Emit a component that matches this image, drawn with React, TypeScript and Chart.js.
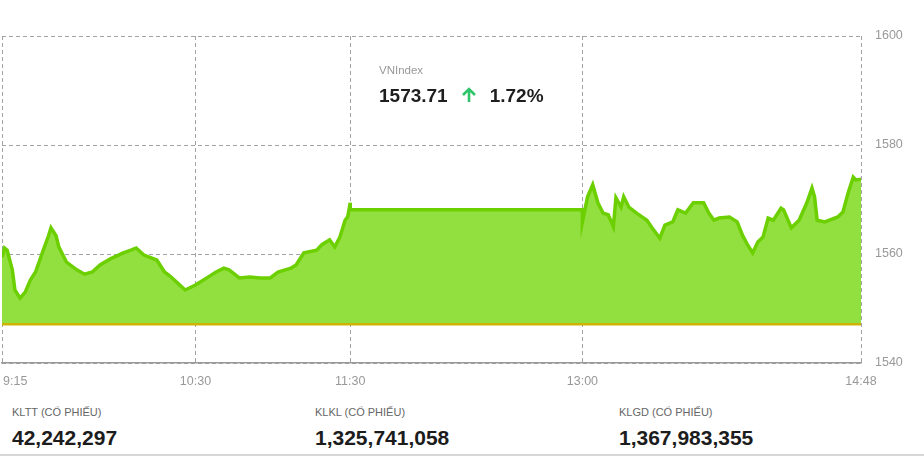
import React, { useEffect, useRef } from "react";
import { Chart, registerables } from "chart.js";

Chart.register(...registerables);

// ---- data ----
const indexName = "VNIndex";
const lastPrice = "1573.71";
const changePct = "1.72%";
const referencePrice = 1547.1;

const timeLabels = ["9:15", "10:30", "11:30", "13:00", "14:48"];
const yTickValues = [1540, 1560, 1580, 1600];

const times = [
  "9:15", "9:16", "9:17", "9:19", "9:20", "9:22", "9:24", "9:26", "9:28", "9:31",
  "9:33", "9:34", "9:36", "9:37", "9:40", "9:44", "9:47", "9:50", "9:53", "9:57",
  "10:02", "10:05", "10:07", "10:10", "10:15", "10:18", "10:20", "10:23", "10:26", "10:30",
  "10:35", "10:38", "10:41", "10:43", "10:47", "10:51", "10:55", "10:59", "11:02", "11:07",
  "11:09", "11:12", "11:17", "11:19", "11:22", "11:24", "11:26", "11:28", "11:29", "11:30",
  "11:30", "13:00", "13:00", "13:02", "13:04", "13:06", "13:08", "13:10", "13:12", "13:13",
  "13:15", "13:16", "13:18", "13:21", "13:25", "13:27", "13:30", "13:32", "13:35", "13:37",
  "13:40", "13:43", "13:47", "13:49", "13:51", "13:53", "13:57", "14:00", "14:02", "14:04",
  "14:06", "14:08", "14:10", "14:12", "14:14", "14:17", "14:18", "14:21", "14:24", "14:27",
  "14:29", "14:30", "14:31", "14:34", "14:39", "14:41", "14:43", "14:45", "14:46", "14:48",
];

const prices = [
  1559.4, 1561.1, 1560.7, 1557.1, 1553.4, 1551.9, 1553.0, 1555.2, 1556.7, 1560.7,
  1563.3, 1564.8, 1563.3, 1561.3, 1558.5, 1557.1, 1556.3, 1556.7, 1558.0, 1559.1,
  1560.2, 1560.7, 1561.1, 1559.8, 1558.9, 1556.7, 1556.0, 1554.7, 1553.4, 1554.3,
  1555.8, 1556.7, 1557.4, 1557.1, 1555.6, 1555.8, 1555.6, 1555.6, 1556.7, 1557.4,
  1558.0, 1560.2, 1560.7, 1561.7, 1562.6, 1561.3, 1563.1, 1566.2, 1566.8, 1569.4,
  1568.1, 1568.1, 1565.9, 1570.5, 1572.7, 1569.4, 1567.5, 1567.2, 1565.0, 1570.3,
  1568.6, 1570.5, 1568.6, 1567.5, 1566.2, 1564.8, 1562.9, 1565.3, 1565.9, 1568.1,
  1567.5, 1569.4, 1569.4, 1567.5, 1566.2, 1566.6, 1566.8, 1565.9, 1563.5, 1561.7,
  1560.2, 1562.2, 1563.1, 1566.6, 1566.2, 1568.4, 1568.1, 1564.8, 1566.2, 1569.4,
  1572.1, 1570.5, 1566.2, 1565.9, 1566.8, 1567.7, 1571.2, 1574.1, 1573.6, 1573.7,
];

const statLabels = ["KLTT (CỔ PHIẾU)", "KLKL (CỔ PHIẾU)", "KLGD (CỔ PHIẾU)"];
const statValues = ["42,242,297", "1,325,741,058", "1,367,983,355"];

// ---- helpers ----
const toMin = (s: string) => {
  const [h, m] = s.split(":").map(Number);
  return h * 60 + m - (9 * 60 + 15);
};

const FONT = '"Liberation Sans", Arial, sans-serif';
const GRID = "#a3a3a3";

const xLabelPlugin = {
  id: "xLabels",
  afterDraw(chart: any) {
    const ctx = chart.ctx;
    const xs = chart.scales.x;
    ctx.save();
    ctx.font = `12.5px ${FONT}`;
    ctx.fillStyle = "#999";
    ctx.textBaseline = "middle";
    ctx.textAlign = "left";
    timeLabels.forEach((lab) => {
      const px = xs.getPixelForValue(toMin(lab));
      const w = ctx.measureText(lab).width;
      let x = px - w / 2;
      if (x < 3) x = 3;
      if (x + w > chart.width - 2) x = chart.width - 2 - w;
      ctx.fillText(lab, x, 382);
    });
    ctx.restore();
  },
};

export default function App() {
  const ref = useRef<HTMLCanvasElement | null>(null);

  useEffect(() => {
    if (!ref.current) return;
    const points = times.map((t, i) => ({ x: toMin(t), y: prices[i] }));
    const xMin = toMin(timeLabels[0]);
    const xMax = toMin(timeLabels[timeLabels.length - 1]);
    const chart = new Chart(ref.current, {
      type: "line",
      data: {
        datasets: [
          {
            label: "ref",
            data: [
              { x: xMin, y: referencePrice },
              { x: xMax, y: referencePrice },
            ],
            borderColor: "#cfb300",
            borderWidth: 2.5,
            pointRadius: 0,
            fill: false,
          },
          {
            label: indexName,
            data: points,
            borderColor: "#6cd000",
            backgroundColor: "#92df40",
            borderWidth: 3.5,
            pointRadius: 0,
            tension: 0,
            fill: { value: referencePrice },
          },
        ],
      },
      options: {
        responsive: false,
        maintainAspectRatio: false,
        animation: false,
        devicePixelRatio: 1,
        layout: { padding: { left: 2, top: 36, right: 0, bottom: 0 } },
        plugins: {
          legend: { display: false },
          tooltip: { enabled: false },
        },
        scales: {
          x: {
            type: "linear",
            min: xMin,
            max: xMax,
            afterBuildTicks: (scale: any) => {
              scale.ticks = timeLabels.map((l) => ({ value: toMin(l) }));
            },
            afterFit: (scale: any) => {
              scale.height = 37;
            },
            ticks: { display: false },
            grid: { color: GRID, lineWidth: 1, drawTicks: false },
            border: { display: true, color: "#9a9a9a", width: 1.5, dash: [4, 3] },
          },
          y: {
            position: "right",
            min: yTickValues[0],
            max: yTickValues[yTickValues.length - 1],
            afterBuildTicks: (scale: any) => {
              scale.ticks = yTickValues.map((v) => ({ value: v }));
            },
            afterFit: (scale: any) => {
              scale.width = 63;
            },
            ticks: {
              color: "#999",
              padding: 14,
              font: { family: FONT, size: 12.5 },
              callback: (v: any) => String(v),
            },
            grid: { color: GRID, lineWidth: 1, drawTicks: false },
            border: { display: false, dash: [4, 3] },
          },
        },
      },
      plugins: [xLabelPlugin],
    });
    return () => chart.destroy();
  }, []);

  const abs = (left: number, top: number, extra: any = {}) => ({
    position: "absolute" as const,
    left,
    top,
    whiteSpace: "nowrap" as const,
    ...extra,
  });

  const statLefts = [12, 315, 619];

  return (
    <div
      style={{
        position: "absolute",
        left: 0,
        top: 0,
        width: 924,
        height: 456,
        background: "#fff",
        fontFamily: FONT,
        overflow: "hidden",
      }}
    >
      <canvas ref={ref} width={924} height={400} style={{ position: "absolute", left: 0, top: 0 }} />
      <div style={abs(379, 65, { fontSize: 11.5, lineHeight: "11.5px", color: "#999" })}>{indexName}</div>
      <div
        style={abs(379, 85.5, {
          fontSize: 19,
          lineHeight: "19px",
          fontWeight: 700,
          color: "#1e1e1e",
          display: "flex",
          alignItems: "center",
        })}
      >
        <span>{lastPrice}</span>
        <svg width="18" height="18" viewBox="0 0 18 18" style={{ marginLeft: 12, marginRight: 12 }}>
          <path d="M9 16 V3 M3 9 L9 3 L15 9" stroke="#2fc56a" strokeWidth="2.6" fill="none" strokeLinecap="butt" />
        </svg>
        <span>{changePct}</span>
      </div>
      {statLabels.map((l, i) => (
        <div key={l} style={abs(statLefts[i], 406.5, { fontSize: 11, lineHeight: "11px", color: "#666" })}>
          {l}
        </div>
      ))}
      {statValues.map((v, i) => (
        <div
          key={v}
          style={abs(statLefts[i], 426.5, { fontSize: 21, lineHeight: "21px", fontWeight: 700, color: "#1c1c1c" })}
        >
          {v}
        </div>
      ))}
      <div style={{ position: "absolute", left: 0, top: 454, width: 924, height: 2, background: "#d6d6d6" }} />
    </div>
  );
}
